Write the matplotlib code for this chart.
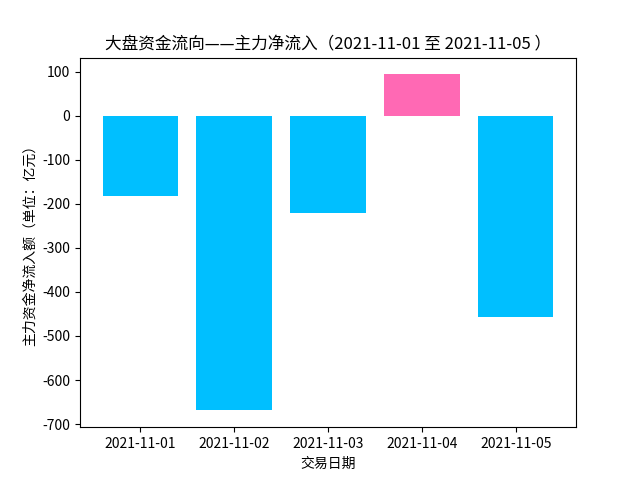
import matplotlib
matplotlib.use("Agg")
import matplotlib.pyplot as plt

plt.rcParams['font.family'] = ['Noto Sans CJK SC', 'DejaVu Sans']
plt.rcParams['axes.unicode_minus'] = False

dates = ["2021-11-01", "2021-11-02", "2021-11-03", "2021-11-04", "2021-11-05"]
net_inflow = [-182.7, -669.0, -221.0, 94.0, -457.5]

colors = ["hotpink" if v > 0 else "deepskyblue" for v in net_inflow]

fig, ax = plt.subplots(figsize=(6.4, 4.8), dpi=100)
ax.bar(dates, net_inflow, color=colors)
ax.set_title("大盘资金流向——主力净流入（2021-11-01 至 2021-11-05 ）")
ax.set_xlabel("交易日期")
ax.set_ylabel("主力资金净流入额（单位：亿元）")

fig.savefig("out.png")
